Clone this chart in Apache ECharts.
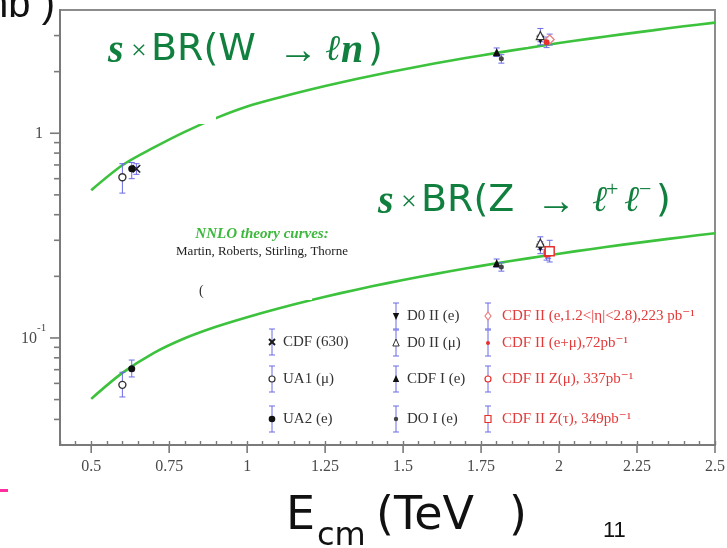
<!DOCTYPE html>
<html>
<head>
<meta charset="utf-8">
<script src="https://cdn.jsdelivr.net/npm/echarts@6.0.0/dist/echarts.min.js"></script>
<style>
  html, body { margin: 0; padding: 0; background: #ffffff; }
  #chart { width: 727px; height: 548px; }
</style>
</head>
<body>
<div id="chart"></div>
<script>
// NNLO theory curves, sampled in centre-of-mass energy (TeV)
const curveEnergy = [0.5, 0.6, 0.7, 0.8, 0.9, 1.0, 1.1, 1.2, 1.3, 1.4, 1.5, 1.6, 1.7, 1.8, 1.9, 2.0, 2.1, 2.2, 2.3, 2.4, 2.5];
const wTheory = [0.527, 0.698, 0.850, 1.016, 1.185, 1.35, 1.49, 1.63, 1.77, 1.91, 2.05, 2.19, 2.33, 2.47, 2.61, 2.76, 2.90, 3.04, 3.18, 3.33, 3.47];
const zTheory = [0.0504, 0.0675, 0.0844, 0.0997, 0.1135, 0.1264, 0.1394, 0.1525, 0.1656, 0.1787, 0.1919, 0.2051, 0.2183, 0.2316, 0.2448, 0.2581, 0.2714, 0.2848, 0.2981, 0.3115, 0.3248];

// Measurements (nb); null where an experiment has no point
const expNames = ['CDF (630)', 'UA1 (μ)', 'UA2 (e)', 'D0 II (e)', 'D0 II (μ)', 'CDF I (e)', 'DO I (e)',
  'CDF II (e,1.2<|η|<2.8),223 pb⁻¹', 'CDF II (e+μ),72pb⁻¹', 'CDF II Z(μ), 337pb⁻¹', 'CDF II Z(τ), 349pb⁻¹'];
const expEnergy = [0.645, 0.60, 0.63, 1.94, 1.94, 1.80, 1.815, 1.97, 1.96, 1.965, 1.97];
const wSigma = [0.67, 0.61, 0.67, 2.86, 3.00, 2.49, 2.31, 2.87, 2.78, null, null];
const wLow   = [0.63, 0.51, 0.60, 2.70, 2.80, 2.37, 2.20, 2.70, 2.62, null, null];
const wHigh  = [0.71, 0.71, 0.72, 3.02, 3.25, 2.61, 2.42, 3.05, 2.95, null, null];
const zSigma = [null, 0.059, 0.0707, 0.276, 0.291, 0.232, 0.222, null, 0.255, 0.262, 0.265];
const zLow   = [null, 0.0515, 0.0645, 0.258, 0.270, 0.222, 0.212, null, 0.240, 0.245, 0.235];
const zHigh  = [null, 0.068, 0.078, 0.295, 0.312, 0.243, 0.233, null, 0.270, 0.280, 0.300];

// Axis ticks
const xMajorTicks = [0.5, 0.75, 1, 1.25, 1.5, 1.75, 2, 2.25, 2.5];
const yMajorTicks = [0.1, 1];
const yMinorTicks = [0.04, 0.05, 0.06, 0.07, 0.08, 0.09, 0.2, 0.3, 0.4, 0.5, 0.6, 0.7, 0.8, 0.9, 2, 3];

const X_MIN = 0.4, X_MAX = 2.5, Y_MIN = 0.03, Y_MAX = 4;
const GREEN = '#3cc23c';
const TEXT_GREEN = '#11803f';
const BLUE = '#6a6ae6';
const RED = '#e8302c';
const PINK = '#ec8080';
const AXIS = '#7a7a7a';
const SERIF = '"Liberation Serif", "DejaVu Serif", serif';
const SANS = '"DejaVu Sans", sans-serif';

// marker look for each experiment (same order as expNames)
const markerKinds = ['cross', 'openCircle', 'dot', 'triDown', 'openTri', 'tri', 'smallDot',
  'openDiamond', 'redDot', 'openRedCircle', 'openRedSquare'];

const symbolStyles = {
  cross: { symbol: 'path://M1,0 L5,4 L9,0 L10,1 L6,5 L10,9 L9,10 L5,6 L1,10 L0,9 L4,5 L0,1 Z', size: 8, color: '#1a1a1a', border: '#1a1a1a', bw: 0.5 },
  openCircle: { symbol: 'circle', size: 7, color: '#ffffff', border: '#333333', bw: 1.4 },
  dot: { symbol: 'circle', size: 7, color: '#111111', border: '#111111', bw: 0 },
  triDown: { symbol: 'triangle', size: 8, rotate: 180, color: '#111111', border: '#111111', bw: 0 },
  openTri: { symbol: 'triangle', size: 8, color: '#ffffff', border: '#333333', bw: 1.2 },
  tri: { symbol: 'triangle', size: 8, color: '#111111', border: '#111111', bw: 0 },
  smallDot: { symbol: 'circle', size: 5, color: '#444444', border: '#444444', bw: 0 },
  openDiamond: { symbol: 'diamond', size: 9, color: '#ffffff', border: PINK, bw: 1.3 },
  redDot: { symbol: 'circle', size: 6, color: RED, border: RED, bw: 0 },
  openRedCircle: { symbol: 'circle', size: 8, color: '#ffffff', border: RED, bw: 1.5 },
  openRedSquare: { symbol: 'rect', size: 9, color: '#ffffff', border: RED, bw: 1.5 }
};

// scatter series, one per experiment
const pointSeries = expNames.map((name, i) => {
  const pts = [];
  if (wSigma[i] != null) pts.push([expEnergy[i], wSigma[i]]);
  if (zSigma[i] != null) pts.push([expEnergy[i], zSigma[i]]);
  const st = symbolStyles[markerKinds[i]];
  return {
    name: name, type: 'scatter', data: pts, z: 6,
    symbol: st.symbol, symbolSize: st.size, symbolRotate: st.rotate || 0,
    itemStyle: { color: st.color, borderColor: st.border, borderWidth: st.bw, opacity: 1 },
    emphasis: { disabled: true }
  };
});

// error bars
const errData = [];
expEnergy.forEach((e, i) => {
  if (wSigma[i] != null) errData.push([e, wLow[i], wHigh[i]]);
  if (zSigma[i] != null) errData.push([e, zLow[i], zHigh[i]]);
});

function segment(x1, y1, x2, y2, color, w) {
  return { type: 'line', shape: { x1, y1, x2, y2 }, style: { stroke: color, lineWidth: w } };
}

const errorSeries = {
  type: 'custom', z: 5, data: errData, encode: { x: 0, y: [1, 2] },
  renderItem: (params, api) => {
    const lo = api.coord([api.value(0), api.value(1)]);
    const hi = api.coord([api.value(0), api.value(2)]);
    const c = 3;
    return { type: 'group', children: [
      segment(lo[0], lo[1], hi[0], hi[1], BLUE, 1),
      segment(lo[0] - c, lo[1], lo[0] + c, lo[1], BLUE, 1),
      segment(hi[0] - c, hi[1], hi[0] + c, hi[1], BLUE, 1)
    ] };
  }
};

// log-axis tick marks and labels on the left
const yTickData = yMajorTicks.map(v => [X_MIN, v, 1]).concat(yMinorTicks.map(v => [X_MIN, v, 0]));
const yTickSeries = {
  type: 'custom', z: 4, data: yTickData, encode: { x: 0, y: 1 }, clip: false, silent: true,
  renderItem: (params, api) => {
    const p = api.coord([api.value(0), api.value(1)]);
    const major = api.value(2) === 1;
    const children = [segment(p[0] - (major ? 10 : 6), p[1], p[0], p[1], AXIS, 1.6)];
    if (major) {
      const v = api.value(1);
      if (Math.abs(v - 1) < 1e-9) {
        children.push({ type: 'text', x: p[0] - 17, y: p[1] + 1,
          style: { text: '1', fill: '#4a4a4a', font: '16px ' + SERIF, align: 'right', verticalAlign: 'middle' } });
      } else {
        const exp = Math.round(Math.log10(v));
        children.push({ type: 'text', x: p[0] - 23, y: p[1] + 1,
          style: { text: '10', fill: '#4a4a4a', font: '16px ' + SERIF, align: 'right', verticalAlign: 'middle' } });
        children.push({ type: 'text', x: p[0] - 23, y: p[1] - 10,
          style: { text: '-' + Math.abs(exp), fill: '#4a4a4a', font: '11px ' + SERIF, align: 'left', verticalAlign: 'middle' } });
      }
    }
    return { type: 'group', children };
  }
};

// long ticks on the energy axis
const xTickSeries = {
  type: 'custom', z: 4, data: xMajorTicks.map(v => [v, Y_MIN]), encode: { x: 0, y: 1 }, clip: false, silent: true,
  renderItem: (params, api) => {
    const p = api.coord([api.value(0), api.value(1)]);
    return segment(p[0], p[1], p[0], p[1] + 8, AXIS, 1.6);
  }
};

const theorySeries = [wTheory, zTheory].map(vals => ({
  type: 'line', smooth: 0.3, showSymbol: false, z: 3, silent: true,
  data: curveEnergy.map((e, i) => [e, vals[i]]),
  lineStyle: { color: GREEN, width: 2.6 }
}));

// legend block drawn inside the plot
const legendCols = [272, 272, 272, 396, 396, 396, 396, 488, 488, 488, 488];
const legendRows = [342, 379, 419, 316, 343, 379, 419, 316, 343, 379, 419];

function legendMarker(kind, x, y) {
  const blackLine = (x1, y1, x2, y2) => segment(x1, y1, x2, y2, '#1a1a1a', 2);
  switch (kind) {
    case 'cross': return [blackLine(x - 3, y - 3, x + 3, y + 3), blackLine(x - 3, y + 3, x + 3, y - 3)];
    case 'openCircle': return [{ type: 'circle', shape: { cx: x, cy: y, r: 3 }, style: { fill: '#fff', stroke: '#333', lineWidth: 1.2 } }];
    case 'dot': return [{ type: 'circle', shape: { cx: x, cy: y, r: 3.3 }, style: { fill: '#111' } }];
    case 'triDown': return [{ type: 'polygon', shape: { points: [[x - 3.2, y - 3], [x + 3.2, y - 3], [x, y + 4]] }, style: { fill: '#111' } }];
    case 'openTri': return [{ type: 'polygon', shape: { points: [[x - 3.2, y + 3], [x + 3.2, y + 3], [x, y - 4]] }, style: { fill: '#fff', stroke: '#333', lineWidth: 1 } }];
    case 'tri': return [{ type: 'polygon', shape: { points: [[x - 3.2, y + 3], [x + 3.2, y + 3], [x, y - 4]] }, style: { fill: '#111' } }];
    case 'smallDot': return [{ type: 'circle', shape: { cx: x, cy: y, r: 2.2 }, style: { fill: '#444' } }];
    case 'openDiamond': return [{ type: 'polygon', shape: { points: [[x, y - 4], [x + 3, y], [x, y + 4], [x - 3, y]] }, style: { fill: '#fff', stroke: PINK, lineWidth: 1.2 } }];
    case 'redDot': return [{ type: 'circle', shape: { cx: x, cy: y, r: 2 }, style: { fill: RED } }];
    case 'openRedCircle': return [{ type: 'circle', shape: { cx: x, cy: y, r: 3 }, style: { fill: '#fff', stroke: RED, lineWidth: 1.2 } }];
    case 'openRedSquare': return [{ type: 'rect', shape: { x: x - 3, y: y - 3.5, width: 6, height: 7 }, style: { fill: '#fff', stroke: RED, lineWidth: 1.2 } }];
  }
  return [];
}

const legendGraphics = [];
expNames.forEach((name, i) => {
  const x = legendCols[i], y = legendRows[i];
  const isRed = i >= 7;
  legendGraphics.push(segment(x, y - 13, x, y + 13, BLUE, 1));
  legendGraphics.push(segment(x - 3, y - 13, x + 3, y - 13, BLUE, 1));
  legendGraphics.push(segment(x - 3, y + 13, x + 3, y + 13, BLUE, 1));
  legendMarker(markerKinds[i], x, y).forEach(g => legendGraphics.push(g));
  legendGraphics.push({ type: 'text', x: x + (isRed ? 14 : 11), y: y,
    style: { text: name, fill: isRed ? '#e23a3a' : '#333333', font: '15px ' + SERIF, align: 'left', verticalAlign: 'middle' } });
});

// large green curve labels, set piece by piece
function pieces(list, baseY) {
  return list.map(([text, x, font, dy]) => ({
    type: 'text', z: 21, x: x, y: baseY + (dy || 0),
    style: { text: text, fill: TEXT_GREEN, font: font, verticalAlign: 'middle' }
  }));
}
const symS = 'italic bold 40px ' + SERIF;
const symTimes = '28px ' + SERIF;
const bigSans = '38px ' + SANS;
const arrowFont = '40px ' + SERIF;
const ellFont = 'italic 36px ' + SERIF;
const supFont = '22px ' + SERIF;

const wLabel = pieces([
  ['s', 108, symS, 2], ['×', 131, symTimes, 2], ['BR(W', 151, bigSans], ['→', 278, arrowFont, 2],
  ['ℓ', 325, ellFont, 1], ['n', 341, symS, 2], [')', 368, bigSans]
], 50);
const zLabel = pieces([
  ['s', 378, symS, 2], ['×', 401, symTimes, 2], ['BR(Z', 421, bigSans], ['→', 536, arrowFont, 2],
  ['ℓ', 592, ellFont, 1], ['+', 606, supFont, -11], ['ℓ', 624, ellFont, 1], ['−', 639, supFont, -11],
  [')', 656, bigSans]
], 201);

const option = {
  animation: false,
  backgroundColor: '#ffffff',
  grid: { left: 60, right: 12, top: 10, bottom: 103, show: true, borderColor: '#8c8c8c', borderWidth: 2, backgroundColor: '#ffffff', containLabel: false, outerBoundsMode: 'none' },
  xAxis: {
    type: 'value', min: X_MIN, max: X_MAX, interval: 0.05,
    axisLine: { lineStyle: { color: AXIS, width: 2 } },
    axisTick: { show: true, inside: true, length: 4, lineStyle: { color: AXIS, width: 1.4 } },
    splitLine: { show: false },
    axisLabel: {
      margin: 14, color: '#4a4a4a', fontFamily: SERIF, fontSize: 16, hideOverlap: false,
      formatter: v => {
        const q = v / 0.25;
        if (Math.abs(q - Math.round(q)) > 1e-6) return '';
        return String(+v.toFixed(2));
      }
    }
  },
  yAxis: {
    type: 'log', logBase: 10, min: Y_MIN, max: Y_MAX,
    axisLine: { show: true, lineStyle: { color: AXIS, width: 2 } },
    axisTick: { show: false }, axisLabel: { show: false }, splitLine: { show: false }
  },
  series: theorySeries.concat([errorSeries], pointSeries, [yTickSeries, xTickSeries]),
  graphic: [
    // patches of blank slide covering parts of the plot
    { type: 'rect', z: 20, shape: { x: 106, y: 105, width: 110, height: 19 }, style: { fill: '#ffffff' } },
    { type: 'rect', z: 20, shape: { x: 203, y: 279, width: 109, height: 21 }, style: { fill: '#ffffff' } },
    { type: 'rect', z: 20, shape: { x: 600, y: 478, width: 127, height: 32 }, style: { fill: '#ffffff' } },
    { type: 'text', z: 21, x: 199, y: 291, style: { text: '(', fill: '#333', font: '14px ' + SERIF, verticalAlign: 'middle' } },

    // theory credit
    { type: 'text', z: 21, x: 262, y: 234, style: { text: 'NNLO theory curves:', fill: '#3cb83c', font: 'italic bold 15px ' + SERIF, align: 'center', verticalAlign: 'middle' } },
    { type: 'text', z: 21, x: 262, y: 252, style: { text: 'Martin, Roberts, Stirling, Thorne', fill: '#222', font: '13px ' + SERIF, align: 'center', verticalAlign: 'middle' } },

    // axis titles
    { type: 'text', z: 21, x: 55, y: 6, style: { text: 'nb )', fill: '#111', font: '40px "Liberation Sans", sans-serif', align: 'right', verticalAlign: 'middle' } },
    { type: 'text', z: 21, x: 286, y: 517, style: { text: 'E', fill: '#111', font: '46px ' + SANS, verticalAlign: 'middle' } },
    { type: 'text', z: 21, x: 317, y: 537, style: { text: 'cm', fill: '#111', font: '32px ' + SANS, verticalAlign: 'middle' } },
    { type: 'text', z: 21, x: 376, y: 517, style: { text: '(TeV', fill: '#111', font: '46px ' + SANS, verticalAlign: 'middle' } },
    { type: 'text', z: 21, x: 509, y: 517, style: { text: ')', fill: '#111', font: '46px ' + SANS, verticalAlign: 'middle' } },
    { type: 'text', z: 21, x: 603, y: 531, style: { text: '11', fill: '#111', font: '22px "Liberation Sans", sans-serif', verticalAlign: 'middle' } },
    { type: 'rect', z: 21, shape: { x: 0, y: 489, width: 8, height: 3 }, style: { fill: '#ff2fa0' } }
  ].concat(wLabel, zLabel, legendGraphics.map(g => Object.assign({ z: 21 }, g)))
};

const chart = echarts.init(document.getElementById('chart'), null, { renderer: 'canvas' });
chart.setOption(option);
</script>
</body>
</html>
